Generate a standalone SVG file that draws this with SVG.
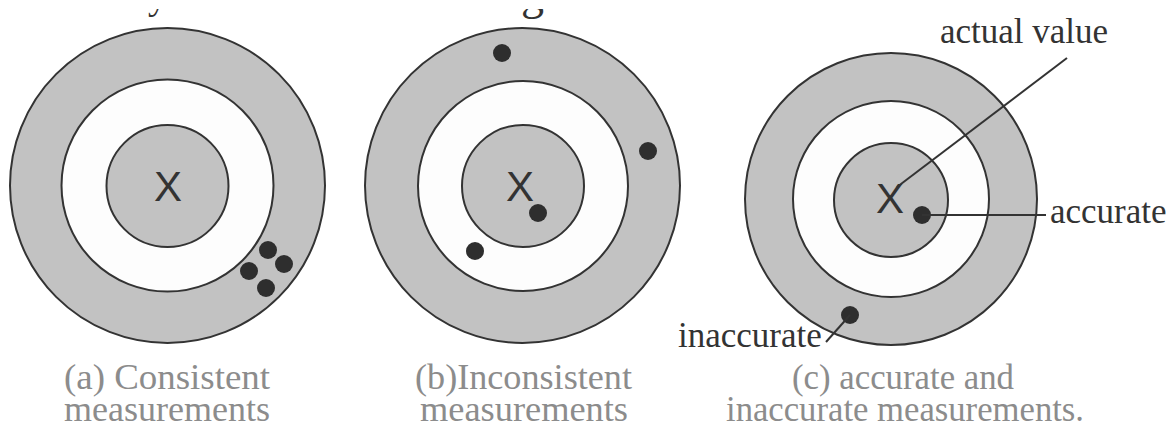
<svg xmlns="http://www.w3.org/2000/svg" width="1173" height="429" viewBox="0 0 1173 429">
<style>
.bg{fill:#ffffff}
.ring{stroke:#333;stroke-width:2}
.g{fill:#c2c2c2}
.w{fill:#fdfdfd}
.dot{fill:#2e2e2e}
.x{font-family:"Liberation Sans",Arial,sans-serif;font-size:42px;fill:#333;text-anchor:middle}
.lbl{font-family:"Liberation Serif","Times New Roman",serif;font-size:35px;fill:#333}
.cap{font-family:"Liberation Serif","Times New Roman",serif;font-size:35px;fill:#8c8c8c}
.conn{stroke:#333;stroke-width:2;fill:none}
</style>
<defs>
<clipPath id="topclip"><rect x="0" y="9" width="1173" height="20"/></clipPath>
</defs>
<rect class="bg" x="0" y="0" width="1173" height="429"/>
<g clip-path="url(#topclip)">
<text class="lbl" x="148" y="9" style="font-size:38px">y</text>
<text class="lbl" x="521" y="9" style="font-size:46px">g</text>
</g>
<g id="target-a">
<circle class="ring g" cx="167.5" cy="185.5" r="157.5"/>
<circle class="ring w" cx="167.5" cy="185.5" r="106"/>
<circle class="ring g" cx="167.5" cy="186" r="61"/>
<text class="x" x="168" y="201">X</text>
<circle class="dot" cx="268" cy="250" r="9"/>
<circle class="dot" cx="284" cy="264" r="9"/>
<circle class="dot" cx="249" cy="271" r="9"/>
<circle class="dot" cx="266" cy="288" r="9"/>
</g>
<g id="target-b">
<circle class="ring g" cx="522.5" cy="185.5" r="157.5"/>
<circle class="ring w" cx="523" cy="186" r="105"/>
<circle class="ring g" cx="523" cy="186" r="61"/>
<text class="x" x="520" y="201">X</text>
<circle class="dot" cx="502" cy="53" r="9"/>
<circle class="dot" cx="648" cy="151" r="9"/>
<circle class="dot" cx="538" cy="213" r="9"/>
<circle class="dot" cx="475" cy="251" r="9"/>
</g>
<g id="target-c">
<circle class="ring g" cx="891" cy="199" r="146"/>
<circle class="ring w" cx="891" cy="199" r="98"/>
<circle class="ring g" cx="891" cy="200" r="57"/>
<text class="x" x="890" y="213">X</text>
<circle class="dot" cx="922" cy="215" r="9"/>
<circle class="dot" cx="850" cy="315" r="9"/>
</g>
<g id="connectors">
<line class="conn" x1="1067" y1="58" x2="897" y2="187"/>
<line class="conn" x1="922" y1="215" x2="1046" y2="215"/>
<line class="conn" x1="850" y1="315" x2="826" y2="342"/>
</g>
<g id="label-actual"><text class="lbl" x="940" y="43">actual value</text></g>
<g id="label-accurate"><text class="lbl" x="1050" y="223">accurate</text></g>
<g id="label-inaccurate"><text class="lbl" x="678" y="347">inaccurate</text></g>
<g id="caption-a">
<text class="cap" x="64" y="389" textLength="206" lengthAdjust="spacingAndGlyphs">(a) Consistent</text>
<text class="cap" x="64" y="421" textLength="206" lengthAdjust="spacingAndGlyphs">measurements</text>
</g>
<g id="caption-b">
<text class="cap" x="415" y="389" textLength="217" lengthAdjust="spacingAndGlyphs">(b)Inconsistent</text>
<text class="cap" x="420" y="421" textLength="208" lengthAdjust="spacingAndGlyphs">measurements</text>
</g>
<g id="caption-c">
<text class="cap" x="792" y="389" textLength="222" lengthAdjust="spacingAndGlyphs">(c) accurate and</text>
<text class="cap" x="726" y="421" textLength="358" lengthAdjust="spacingAndGlyphs">inaccurate measurements.</text>
</g>
</svg>
